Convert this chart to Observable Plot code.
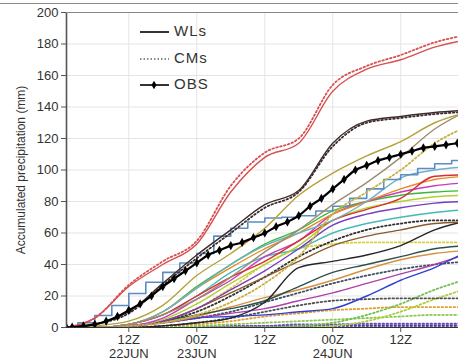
<!DOCTYPE html>
<html><head><meta charset="utf-8">
<script src="https://cdn.jsdelivr.net/npm/d3@7"></script>
<script src="https://cdn.jsdelivr.net/npm/@observablehq/plot@0.6"></script>
<style>
html,body{margin:0;padding:0;background:#fff;overflow:hidden}
#wrap{position:relative;width:458px;height:361px;overflow:hidden}
#topline{position:absolute;left:0;top:3px;width:458px;height:0;border-top:1.5px solid #8a8a8a}
</style></head><body><div id="wrap"><div id="topline"></div></div>
<script>
// ---- time axis (hours since 22JUN 00Z) ----
const hours = [1,6,12,18,24,30,36,42,48,54,60,66,72];
const tickHours = [12,24,36,48,60];
const tickLabels = ["12Z\n22JUN","00Z\n23JUN","12Z","00Z\n24JUN","12Z"];
const yTicks = [0,20,40,60,80,100,120,140,160,180,200];

// ---- WLs (solid) ----
const wlRed      = [0,6,26,40,53,86,108,117,150,164,170,178,183];
const wlDark     = [0,2,10,28,46,62,78,87,117,131,134,136.5,138];
const wlOlive    = [0,1,4,14,33,47,63,84,98,109,118,130,137];
const wlGrayBrn  = [0,0,2,8,18,32,48,62,78,92,108,126,138];
const wlRed2     = [0,0,2,8,20,32,42,55,68,75,82,96,97];
const wlOrange   = [0,0,2,10,25,38,50,60,72,80,88,94,96];
const wlMagenta  = [0,0,1,6,18,30,45,55,72,80,86,90,92];
const wlGreen    = [0,0,2,10,26,40,53,62,74,80,84,86,87];
const wlYelGreen = [0,0,1,5,15,28,40,52,68,76,80,83,84];
const wlPurple   = [0,0,1,4,12,24,36,50,65,72,76,79,80];
const wlTeal     = [0,0,2,8,20,35,45,50,60,66,70,73,75];
const wlBrown    = [0,0,1,4,12,22,32,42,52,58,62,66,67];
const wlLtBlue   = [0,0,2,10,25,40,52,60,68,80,95,100,102];
const wlBlack    = [0,0,0,1,3,6,16,38,42,46,52,62,68];
const wlSlate    = [0,0,1,4,8,12,17,26,35,40,45,50,52];
const wlTan      = [0,0,1,3,7,13,19,24,30,37,43,47,49];
const wlBlue     = [0,0,1,3,6,7,8,10,12,20,30,38,49];
const wlMagenta2 = [0,0,1,3,6,9,12,17,22,28,34,40,47];
// step-like WL (3-hourly)
const stepHours = [1,3,6,9,12,15,18,21,24,27,30,33,36,39,42,45,48,51,54,57,60,63,66,69,72];
const wlSteel   = [0,3,7.6,14,21.6,28.7,35,41,47,58,63,67,69.5,70,71,74,77,82,88,94,97,101,104,106,108];

// ---- CMs (dotted) ----
const cmRed      = [0,6,27,42,55,90,111,120,154,166,173,181,186];
const cmDark     = [0,2,9,27,44,60,76,86,115,130,133,135.5,137];
const cmOlive    = [0,0,1,3,8,16,28,45,72,86,100,117,128];
const cmBlack    = [0,0,1,4,10,20,32,45,55,62,66,68,68];
const cmYellow   = [0,0,1,4,12,25,40,50,53,54,54,54,54];
const cmSlate    = [0,0,1,3,6,10,16,22,28,33,37,40,42];
const cmGray     = [0,0,0,1,3,6,10,14,17,18,18.5,18.5,18.5];
const cmGreen    = [0,0,0,0,0,0,0,1,3,8,15,24,31];
const cmLime     = [0,0,0,0,0,0,0,0,1,4,10,18,25];
const cmOrange   = [0,0,0,1,2,4,7,9,11,12,13,13,13];
const cmGreen2   = [0,0,0,0,1,2,3,4,5,6,7,8,8];
const cmPurple   = [0,0,0,0,0,1,1,2,2,2.5,2.5,2.5,2.5];
const cmViolet   = [0,0,0,0,0,0.5,1,1,1.5,1.5,1.5,1.5,1.5];
const cmNavy     = [0,0,0,0,0,0.3,0.3,0.3,0.3,0.3,0.3,0.3,0.3];

// ---- OBS (2-hourly) ----
const obsHours = [1,2,4,6,8,10,12,14,16,18,20,22,24,26,28,30,32,34,36,38,40,42,44,46,48,50,52,54,56,58,60,62,64,66,68,70];
const obsVals  = [0,0.2,1,2,4,7,11,15,20,26,31,36,41,46,49,52,54,57,60,64,67,71,77,82,88,94,100,103,106,108,110,112,114,115,116,117];

// ---- styles (drawing order) ----
const lineStyles = [
  [cmNavy,"#2a2a7a","cm"],[cmViolet,"#5a3aa8","cm"],[cmPurple,"#7048b8","cm"],[cmGreen2,"#8cc850","cm"],
  [cmOrange,"#e0a030","cm"],[cmLime,"#a8d040","cm"],[cmGreen,"#70c050","cm"],
  [cmGray,"#505050","cm"],[cmSlate,"#405060","cm"],[cmYellow,"#d8d040","cm"],
  [cmBlack,"#303030","cm"],
  [wlMagenta2,"#b040a8","wl"],[wlBlue,"#3040d0","wl"],[wlTan,"#d89040","wl"],
  [wlSlate,"#2f4f4f","wl"],[wlBlack,"#262626","wl"],[wlBrown,"#8b5a2b","wl"],
  [wlTeal,"#48b8b8","wl"],[wlPurple,"#7a3cc0","wl"],[wlYelGreen,"#b0d030","wl"],
  [wlGreen,"#38b838","wl"],[wlMagenta,"#c83cc0","wl"],[wlOrange,"#e88a20","wl"],
  [wlRed2,"#d83030","wl"],[wlLtBlue,"#70b0c8","wl"],
  [cmOlive,"#c8b040","cm"],[wlGrayBrn,"#9a8c70","wl"],[wlOlive,"#b5a23a","wl"],
  [cmDark,"#3d2b2b","cm"],[wlDark,"#3d2b2b","wl"],
  [cmRed,"#d85050","cm"],[wlRed,"#d85050","wl"]
];

const marks = [
  Plot.gridY(yTicks, {stroke:"#e4e4e4", strokeOpacity:1}),
  Plot.gridX(tickHours, {stroke:"#e4e4e4", strokeOpacity:1})
];
for (const [vals, color, kind] of lineStyles) {
  marks.push(Plot.line(hours.map((h,i)=>({h, v: vals[i]})), {
    x:"h", y:"v", stroke: color, curve:"monotone-x", clip:true,
    strokeWidth: kind==="cm" ? 1.8 : 1.4,
    strokeDasharray: kind==="cm" ? "1.6,2.4" : null
  }));
  if (vals === wlLtBlue) {
    marks.push(Plot.line(stepHours.map((h,i)=>({h, v: wlSteel[i]})), {
      x:"h", y:"v", stroke:"#5b8cc4", strokeWidth:1.6, curve:"step-after", clip:true
    }));
  }
}
const obs = obsHours.map((h,i)=>({h, v: obsVals[i]}));
marks.push(Plot.line(obs, {x:"h", y:"v", stroke:"#000", strokeWidth:2.2, curve:"monotone-x", clip:true}));
marks.push(Plot.dot(obs, {x:"h", y:"v", symbol:"diamond", r:2.8, fill:"#000", clip:true}));
marks.push(Plot.ruleX([1], {stroke:"#555", strokeWidth:1.6}));
marks.push(Plot.ruleY([200], {stroke:"#888", strokeWidth:1.2}));
marks.push(Plot.ruleY([0], {stroke:"#333", strokeWidth:1}));
marks.push(Plot.axisY(yTicks, {tickSize:5, tickPadding:3, fontSize:13, label:null, stroke:"#555", fill:"#333"}));
marks.push(Plot.axisX(tickHours, {tickSize:5, tickPadding:2, fontSize:13, label:null, stroke:"#555", fill:"#333",
  tickFormat: d => tickLabels[tickHours.indexOf(d)], lineHeight:1.05}));

const chart = Plot.plot({
  width:458, height:361,
  marginLeft:66, marginTop:12, marginBottom:34, marginRight:0,
  x:{domain:[1,70.2]},
  y:{domain:[0,200]},
  style:{fontFamily:"'Liberation Sans', Arial, sans-serif", fontSize:"13px", color:"#333", background:"#fff", overflow:"hidden"},
  marks
});
document.getElementById("wrap").appendChild(chart);

// y-axis title and legend
const svg = d3.select(chart);
svg.append("text").attr("transform","translate(22,170) rotate(-90)")
  .attr("text-anchor","middle").attr("dominant-baseline","middle")
  .attr("font-size",12).attr("fill","#333").text("Accumulated precipitation (mm)");
const leg = svg.append("g").attr("font-size",15).attr("fill","#333").attr("letter-spacing","1px").attr("text-anchor","start");
const items = [["WLs",32,"solid"],["CMs",59,"dot"],["OBS",85,"obs"]];
for (const [t,y,k] of items) {
  leg.append("line").attr("x1",140).attr("x2",169).attr("y1",y).attr("y2",y)
    .attr("stroke", k==="dot" ? "#666" : "#333").attr("stroke-width", k==="dot"?1.6:2)
    .attr("stroke-dasharray", k==="dot" ? "1.5,2" : null);
  if (k==="obs") leg.append("path").attr("d", d3.symbol(d3.symbolDiamond, 22)()).attr("transform",`translate(154,${y})`).attr("fill","#000");
  leg.append("text").attr("x",174).attr("y",y).attr("text-anchor","start").attr("dominant-baseline","middle").text(t);
}
</script></body></html>
